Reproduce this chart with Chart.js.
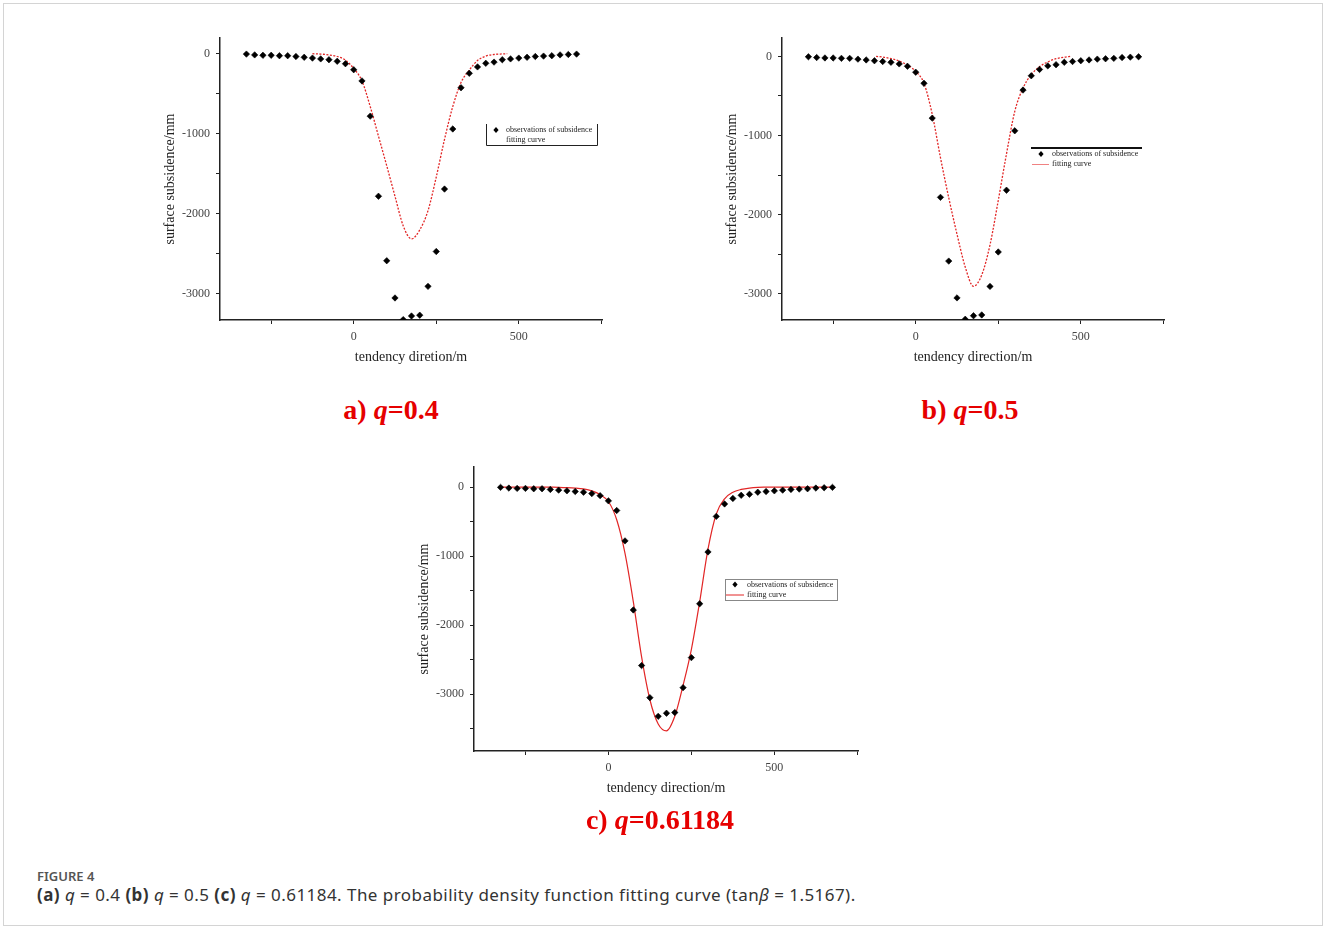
<!DOCTYPE html>
<html>
<head>
<meta charset="utf-8">
<title>Subsidence fitting curves</title>
<script src="https://cdn.jsdelivr.net/npm/chart.js@4.4.1/dist/chart.umd.min.js"></script>
<style>
  body { margin: 0; background: #fff; width: 1328px; height: 931px; position: relative; overflow: hidden; }
  .frame { position: absolute; left: 3px; top: 3px; width: 1320px; height: 923px; border: 1px solid #d4d4d4; box-sizing: border-box; }
  .panel { position: absolute; }
  .sub { position: absolute; font-family: "Liberation Serif", "Times New Roman", serif; font-weight: bold; font-size: 28px; color: #e60000; transform: translateX(-50%); white-space: nowrap; }
  .fig { position: absolute; left: 37px; top: 867px; font-family: "Noto Sans", sans-serif; font-size: 13px; font-weight: 600; color: #555; }
  .cap { position: absolute; left: 37px; top: 883px; font-family: "Noto Sans", sans-serif; font-size: 17px; letter-spacing: 0.45px; color: #333; white-space: nowrap; }
</style>
</head>
<body>
<div class="frame"></div>

<div class="panel" style="left:158px; top:20px;"><canvas id="chartA" width="460" height="355"></canvas></div>
<div class="panel" style="left:720px; top:20px;"><canvas id="chartB" width="460" height="355"></canvas></div>
<div class="panel" style="left:412px; top:449px;"><canvas id="chartC" width="462" height="357"></canvas></div>

<div class="sub" style="left:391px; top:394px;">a) <i>q</i>=0.4</div>
<div class="sub" style="left:970px; top:394px;">b) <i>q</i>=0.5</div>
<div class="sub" style="left:660px; top:804px;">c) <i>q</i>=0.61184</div>

<div class="fig">FIGURE 4</div>
<div class="cap"><b>(a)</b> <i>q</i> = 0.4 <b>(b)</b> <i>q</i> = 0.5 <b>(c)</b> <i>q</i> = 0.61184. The probability density function fitting curve (tan<i>β</i> = 1.5167).</div>

<script>
// measured subsidence along the tendency line (same for all three panels)
const obsX = [-325, -300, -275, -250, -225, -200, -175, -150, -125, -100, -75, -50, -25, 0, 25, 50, 75, 100, 125, 150,
  175, 200, 225, 250, 275, 300, 325, 350, 375, 400, 425, 450, 475, 500, 525, 550, 575, 600, 625, 650, 675];
const obsY = [-5, -15, -20, -20, -25, -25, -35, -45, -55, -65, -75, -95, -125, -200, -340, -780, -1780, -2585, -3050, -3320,
  -3275, -3265, -2905, -2470, -1690, -940, -425, -245, -165, -120, -105, -75, -65, -55, -45, -35, -30, -25, -15, -10, -5];

// fitted curve, q = 0.4
const curveAX = [-125, -100, -75, -50, -25, 0, 25, 50, 75, 100, 125, 150, 175, 200, 225, 250, 275, 300, 325, 350, 375, 400, 425, 450, 465];
const curveAY = [0, -5, -15, -35, -80, -185, -340, -660, -1030, -1400, -1780, -2150, -2312, -2200, -1960, -1540, -1070, -660, -360, -205, -85, -30, -10, -3, 0];

// fitted curve, q = 0.5
const curveBX = [-120, -100, -75, -50, -25, 0, 25, 50, 75, 100, 125, 150, 175, 200, 225, 250, 275, 300, 325, 350, 375, 400, 425, 450, 470];
const curveBY = [0, -8, -28, -60, -110, -190, -340, -730, -1280, -1785, -2245, -2660, -2904, -2760, -2380, -1820, -1230, -694, -400, -230, -130, -70, -30, -10, 0];

// fitted curve, q = 0.61184
const curveCX = [-325, -300, -275, -250, -225, -200, -175, -150, -125, -100, -75, -50, -25, 0, 25, 50, 75, 100, 125, 150,
  175, 200, 225, 250, 275, 300, 325, 350, 375, 400, 425, 450, 475, 500, 525, 550, 575, 600, 625, 650, 675];
const curveCY = [0, 0, 0, 0, 0, 0, -2, -4, -8, -15, -28, -55, -110, -210, -474, -960, -1660, -2460, -3080, -3430,
  -3530, -3320, -2870, -2350, -1660, -900, -390, -170, -75, -35, -15, -5, -2, 0, 0, 0, 0, 0, 0, 0, 0];

const xTickValues = [-250, 0, 250, 500, 750];
const xTickLabels = ['', '0', '', '500', ''];
const yTickValues = [0, -500, -1000, -1500, -2000, -2500, -3000, -3500];
const yTickLabels = ['0', '', '-1000', '', '-2000', '', '-3000', ''];

const legendText = ['observations of subsidence', 'fitting curve'];
const RED = 'rgb(226, 38, 38)';

function toPoints(xs, ys) {
  return xs.map((x, i) => ({ x: x, y: ys[i] }));
}

// small legend drawn inside the plot area, three slightly different looks
const boxLegend = {
  id: 'boxLegend',
  afterDraw(chart, args, opts) {
    const ctx = chart.ctx;
    const area = chart.chartArea;
    const x = area.left + opts.dx, y = area.top + opts.dy, w = opts.w, h = opts.h;
    ctx.save();
    ctx.lineWidth = 1;
    if (opts.look === 'open') {
      ctx.strokeStyle = '#222';
      ctx.beginPath();
      ctx.moveTo(x + 0.5, y);
      ctx.lineTo(x + 0.5, y + h + 0.5);
      ctx.lineTo(x + w + 0.5, y + h + 0.5);
      ctx.lineTo(x + w + 0.5, y);
      ctx.stroke();
    } else if (opts.look === 'topbar') {
      ctx.fillStyle = '#111';
      ctx.fillRect(x, y - 1, w, 2);
    } else {
      ctx.strokeStyle = '#888';
      ctx.strokeRect(x + 0.5, y + 0.5, w, h);
    }
    const row1 = y + opts.row1, row2 = row1 + 10;
    // marker sample
    ctx.fillStyle = '#000';
    ctx.beginPath();
    ctx.moveTo(x + opts.mx, row1 - 3);
    ctx.lineTo(x + opts.mx + 2.6, row1);
    ctx.lineTo(x + opts.mx, row1 + 3);
    ctx.lineTo(x + opts.mx - 2.6, row1);
    ctx.closePath();
    ctx.fill();
    // line sample
    if (opts.lineSample) {
      ctx.strokeStyle = opts.lineSample;
      ctx.beginPath();
      ctx.moveTo(x + 1, row2 + 0.5);
      ctx.lineTo(x + opts.tx - 3, row2 + 0.5);
      ctx.stroke();
    }
    ctx.fillStyle = '#222';
    ctx.font = '8px "Liberation Serif", serif';
    ctx.textBaseline = 'middle';
    ctx.fillText(legendText[0], x + opts.tx, row1);
    ctx.fillText(legendText[1], x + opts.tx, row2);
    ctx.restore();
  }
};

function makeChart(id, curveX, curveY, yMin, yMax, dashed, legendOpts, xTitle) {
  const ctx = document.getElementById(id).getContext('2d');
  return new Chart(ctx, {
    type: 'scatter',
    data: {
      datasets: [
        {
          label: legendText[0],
          data: toPoints(obsX, obsY),
          pointStyle: 'rectRot',
          pointRadius: 3.2,
          pointBackgroundColor: '#000',
          pointBorderColor: '#000',
          pointBorderWidth: 0.6,
          showLine: false
        },
        {
          label: legendText[1],
          data: toPoints(curveX, curveY),
          showLine: true,
          pointRadius: 0,
          borderColor: RED,
          borderWidth: dashed ? 1.3 : 1.2,
          borderDash: dashed ? [2, 1.5] : [],
          cubicInterpolationMode: 'monotone',
          fill: false
        }
      ]
    },
    options: {
      responsive: false,
      animation: false,
      layout: { padding: { left: 0, top: 18, right: 16, bottom: 0 } },
      plugins: {
        legend: { display: false },
        tooltip: { enabled: false },
        boxLegend: legendOpts
      },
      scales: {
        x: {
          type: 'linear',
          min: -405,
          max: 752,
          afterBuildTicks: s => { s.ticks = xTickValues.map(v => ({ value: v })); },
          afterFit: s => { s.height = 55; },
          ticks: {
            padding: 6,
            color: '#444',
            font: { family: '"Liberation Serif", serif', size: 12 },
            callback: v => xTickLabels[xTickValues.indexOf(v)]
          },
          grid: { drawOnChartArea: false, drawTicks: true, tickLength: 4, color: '#222' },
          border: { display: true, color: '#222', width: 1.5 },
          title: {
            display: true,
            text: xTitle,
            color: '#222',
            padding: { top: 0, bottom: 9 },
            font: { family: '"Liberation Serif", serif', size: 14 }
          }
        },
        y: {
          type: 'linear',
          min: yMin,
          max: yMax,
          afterBuildTicks: s => {
            s.ticks = yTickValues.filter(v => v >= yMin && v <= yMax).map(v => ({ value: v }));
          },
          afterFit: s => { s.width = 62; },
          ticks: {
            padding: 6,
            color: '#444',
            font: { family: '"Liberation Serif", serif', size: 12 },
            callback: v => yTickLabels[yTickValues.indexOf(v)]
          },
          grid: { drawOnChartArea: false, drawTicks: true, tickLength: 4, color: '#222' },
          border: { display: true, color: '#222', width: 1.5 },
          title: {
            display: true,
            text: 'surface subsidence/mm',
            color: '#222',
            padding: { top: 4, bottom: 0 },
            font: { family: '"Liberation Serif", serif', size: 14 }
          }
        }
      }
    },
    plugins: [boxLegend]
  });
}

makeChart('chartA', curveAX, curveAY, -3325, 196, true,
  { look: 'open', dx: 266, dy: 86, w: 111, h: 21, row1: 6, mx: 10, tx: 20, lineSample: null },
  'tendency diretion/m');
makeChart('chartB', curveBX, curveBY, -3329, 232, true,
  { look: 'topbar', dx: 249, dy: 110, w: 111, h: 21, row1: 6, mx: 10, tx: 21, lineSample: 'rgb(240,130,130)' },
  'tendency direction/m');
makeChart('chartC', curveCX, curveCY, -3822, 290, false,
  { look: 'box', dx: 251, dy: 112, w: 112, h: 21, row1: 5.5, mx: 10, tx: 22, lineSample: RED },
  'tendency direction/m');
</script>
</body>
</html>
